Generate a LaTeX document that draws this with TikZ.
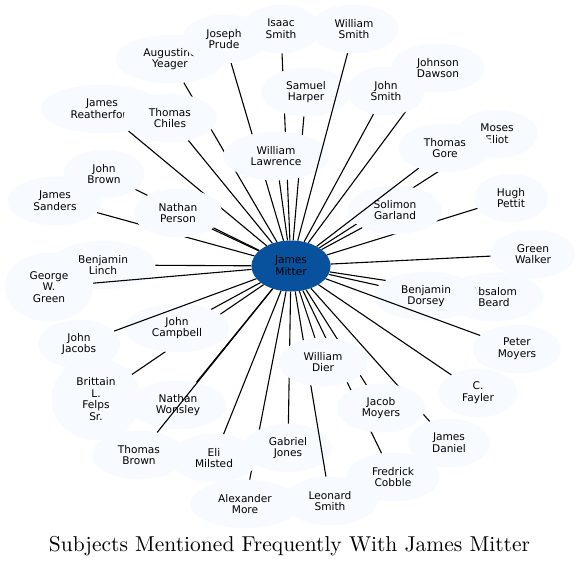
\documentclass[tikz,border=0pt]{standalone}
\usepackage{fontspec}
\newfontfamily\nodefont{DejaVu Sans}
\usetikzlibrary{shapes.geometric}
\definecolor{nodefill}{HTML}{F7FBFF}
\definecolor{hubfill}{HTML}{08519C}
\begin{document}
\begin{tikzpicture}[x=1pt,y=-1pt,
  person/.style={ellipse, fill=nodefill, draw=none, inner xsep=12pt, inner ysep=2pt,
    minimum width=73pt, minimum height=48.6pt, align=center,
    font=\nodefont\fontsize{10.6}{11.7}\selectfont},
  hub/.style={person, fill=hubfill, minimum width=78pt, minimum height=51pt},
  link/.style={draw=black, line width=1.1pt}]
\fill[white] (0,0) rectangle (579,566);
\useasboundingbox (0,0) rectangle (579,566);
\node[hub] (c) at (291,266) {James\\Mitter};
\node[person] (isaac) at (281,29) {Isaac\\Smith}; \draw[link] (c) -- (isaac);
\node[person] (augustine) at (170,59) {Augustine\\Yeager}; \draw[link] (c) -- (augustine);
\node[person] (prude) at (224,39) {Joseph\\Prude}; \draw[link] (c) -- (prude);
\node[person] (harper) at (306,92) {Samuel\\Harper}; \draw[link] (c) -- (harper);
\node[person] (lawrence) at (276,156) {William\\Lawrence}; \draw[link] (c) -- (lawrence);
\node[person] (wsmith) at (354,29) {William\\Smith}; \draw[link] (c) -- (wsmith);
\node[person] (reatherford) at (102,109) {James\\Reatherford}; \draw[link] (c) -- (reatherford);
\node[person] (chiles) at (170,118) {Thomas\\Chiles}; \draw[link] (c) -- (chiles);
\node[person] (jbrown) at (104,174) {John\\Brown}; \draw[link] (c) -- (jbrown);
\node[person] (sanders) at (55,201) {James\\Sanders}; \draw[link] (c) -- (sanders);
\node[person] (person) at (178,213) {Nathan\\Person}; \draw[link] (c) -- (person);
\node[person] (eliot) at (497,134) {Moses\\Eliot}; \draw[link] (c) -- (eliot);
\node[person] (pettit) at (511,198) {Hugh\\Pettit}; \draw[link] (c) -- (pettit);
\node[person] (garland) at (395,210) {Solimon\\Garland}; \draw[link] (c) -- (garland);
\node[person] (gore) at (445,148) {Thomas\\Gore}; \draw[link] (c) -- (gore);
\node[person] (dawson) at (438,68) {Johnson\\Dawson}; \draw[link] (c) -- (dawson);
\node[person] (jsmith) at (386,91) {John\\Smith}; \draw[link] (c) -- (jsmith);
\node[person] (beard) at (494,297) {Absalom\\Beard}; \draw[link] (c) -- (beard);
\node[person] (dorsey) at (426,296) {Benjamin\\Dorsey}; \draw[link] (c) -- (dorsey);
\node[person] (pmoyers) at (517,349) {Peter\\Moyers}; \draw[link] (c) -- (pmoyers);
\node[person] (walker) at (533,254) {Green\\Walker}; \draw[link] (c) -- (walker);
\node[person] (fayler) at (478,393) {C.\\Fayler}; \draw[link] (c) -- (fayler);
\node[person] (daniel) at (449,443) {James\\Daniel}; \draw[link] (c) -- (daniel);
\node[person] (cobble) at (393,477) {Fredrick\\Cobble}; \draw[link] (c) -- (cobble);
\node[person] (jmoyers) at (381,408) {Jacob\\Moyers}; \draw[link] (c) -- (jmoyers);
\node[person] (more) at (245,504) {Alexander\\More}; \draw[link] (c) -- (more);
\node[person] (jones) at (288,448) {Gabriel\\Jones}; \draw[link] (c) -- (jones);
\node[person] (lsmith) at (330,501) {Leonard\\Smith}; \draw[link] (c) -- (lsmith);
\node[person] (milsted) at (214,458) {Eli\\Milsted}; \draw[link] (c) -- (milsted);
\node[person] (dier) at (323,362) {William\\Dier}; \draw[link] (c) -- (dier);
\node[person] (wonsley) at (178,405) {Nathan\\Wonsley}; \draw[link] (c) -- (wonsley);
\node[person] (tbrown) at (139,455) {Thomas\\Brown}; \draw[link] (c) -- (tbrown);
\node[person, minimum height=82pt] (felps) at (96,399) {Brittain\\L.\\Felps\\Sr.}; \draw[link] (c) -- (felps);
\node[person] (campbell) at (177,328) {John\\Campbell}; \draw[link] (c) -- (campbell);
\node[person] (jacobs) at (79,344) {John\\Jacobs}; \draw[link] (c) -- (jacobs);
\node[person] (linch) at (103,265) {Benjamin\\Linch}; \draw[link] (c) -- (linch);
\node[person, minimum height=69pt] (green) at (49,287) {George\\W.\\Green}; \draw[link] (c) -- (green);
\node[anchor=base, inner sep=0pt] (title) at (289.5,551) {\resizebox{481pt}{!}{Subjects Mentioned Frequently With James Mitter}};
\end{tikzpicture}
\end{document}
